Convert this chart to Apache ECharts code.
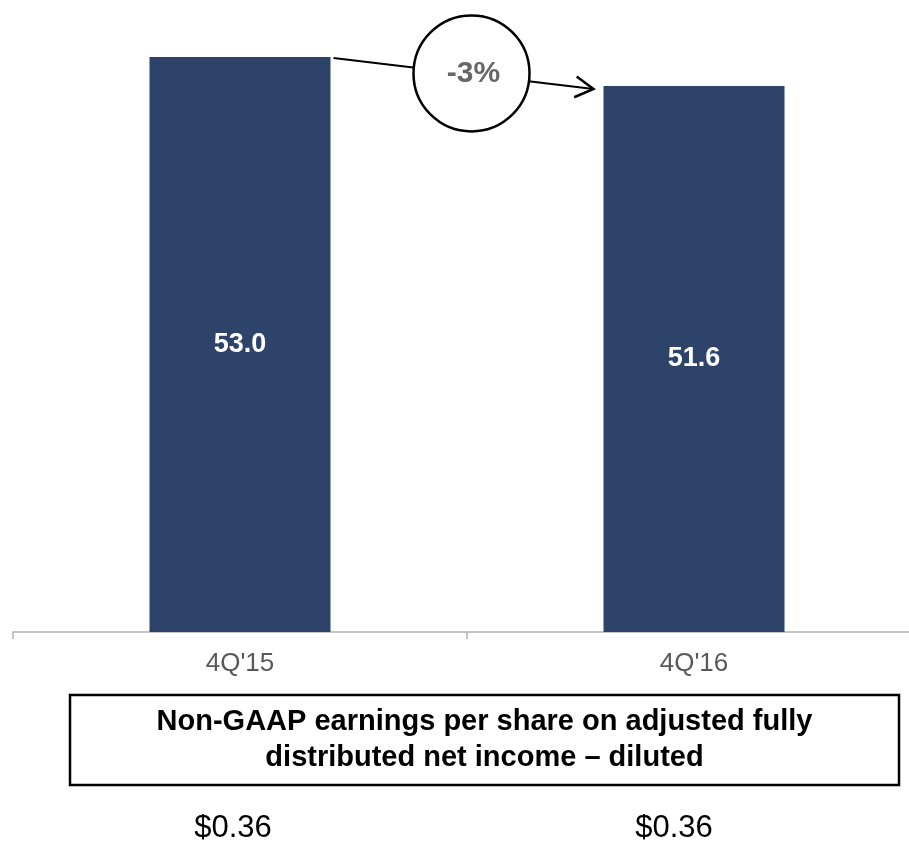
<!DOCTYPE html>
<html>
<head>
<meta charset="utf-8">
<script src="https://cdn.jsdelivr.net/npm/echarts@6/dist/echarts.min.js"></script>
<style>
html,body{margin:0;padding:0;background:#fff;overflow:hidden;width:909px;height:842px;}
#chart{width:921px;height:842px;}
</style>
</head>
<body>
<div id="chart"></div>
<script>
// ---- data ----
var categories = ["4Q'15", "4Q'16"];
var values = [53.0, 51.6];
var changeLabel = '-3%';
var boxTitle = ['Non-GAAP earnings per share on adjusted fully', 'distributed net income \u2013 diluted'];
var epsLabels = ['$0.36', '$0.36'];

var FONT = '"Liberation Sans", Arial, sans-serif';
var BAR_W = 181;

var chart = echarts.init(document.getElementById('chart'), null, {renderer: 'canvas'});

var option = {
  animation: false,
  backgroundColor: '#ffffff',
  grid: {left: 13, top: 57, right: 0, bottom: 210, containLabel: false},
  xAxis: {
    type: 'category',
    data: categories,
    axisLine: {show: true, lineStyle: {color: '#b3b3b3', width: 1.5}},
    axisTick: {show: true, length: 7, lineStyle: {color: '#b3b3b3', width: 1.5}},
    axisLabel: {color: '#595959', fontSize: 26, fontFamily: FONT, margin: 19}
  },
  yAxis: {
    type: 'value',
    min: 25.2,
    max: 53,
    show: false,
    splitLine: {show: false}
  },
  series: [{
    type: 'bar',
    data: values,
    barWidth: BAR_W,
    itemStyle: {color: '#2d4369'},
    label: {
      show: true,
      position: 'inside',
      color: '#ffffff',
      fontWeight: 'bold',
      fontSize: 27,
      fontFamily: FONT,
      formatter: function (p) { return p.value.toFixed(1); }
    }
  }]
};
chart.setOption(option);

// ---- annotations derived from the chart's own scales ----
var p1 = chart.convertToPixel({seriesIndex: 0}, [0, values[0]]);
var p2 = chart.convertToPixel({seriesIndex: 0}, [1, values[1]]);
var start = [p1[0] + BAR_W / 2 + 3, p1[1] + 1];
var tip = [p2[0] - BAR_W / 2 - 10, p2[1] + 3];
var ang = Math.atan2(tip[1] - start[1], tip[0] - start[0]);
var armLen = 21, half = 30 * Math.PI / 180;
var arm1 = [tip[0] - armLen * Math.cos(ang - half), tip[1] - armLen * Math.sin(ang - half)];
var arm2 = [tip[0] - armLen * Math.cos(ang + half), tip[1] - armLen * Math.sin(ang + half)];
var cx = (start[0] + tip[0]) / 2 + 8;
var cy = start[1] + (tip[1] - start[1]) * ((cx - start[0]) / (tip[0] - start[0])) - 1;

var c0 = chart.convertToPixel({xAxisIndex: 0}, 0);
var c1 = chart.convertToPixel({xAxisIndex: 0}, 1);

var graphics = [
  {type: 'polyline', z: 10, shape: {points: [start, tip]}, style: {stroke: '#000', lineWidth: 2, fill: null}},
  {type: 'polyline', z: 10, shape: {points: [arm1, tip, arm2]}, style: {stroke: '#000', lineWidth: 2.5, fill: null}},
  {type: 'circle', z: 11, shape: {cx: cx, cy: cy, r: 58}, style: {fill: '#fff', stroke: '#000', lineWidth: 2.5}},
  {type: 'text', z: 12, x: cx + 2, y: cy, style: {text: changeLabel, font: 'bold 30px ' + FONT, fill: '#666666', textAlign: 'center', textVerticalAlign: 'middle'}},
  {type: 'rect', z: 10, shape: {x: 70, y: 695, width: 829, height: 90}, style: {fill: '#fff', stroke: '#000', lineWidth: 2.5}},
  {type: 'text', z: 11, x: 484.5, y: 722, style: {text: boxTitle[0], font: 'bold 29px ' + FONT, fill: '#000', textAlign: 'center', textVerticalAlign: 'middle'}},
  {type: 'text', z: 11, x: 484.5, y: 758, style: {text: boxTitle[1], font: 'bold 29px ' + FONT, fill: '#000', textAlign: 'center', textVerticalAlign: 'middle'}},
  {type: 'text', z: 11, x: c0 - 7, y: 828, style: {text: epsLabels[0], font: '31px ' + FONT, fill: '#000', textAlign: 'center', textVerticalAlign: 'middle'}},
  {type: 'text', z: 11, x: c1 - 20, y: 828, style: {text: epsLabels[1], font: '31px ' + FONT, fill: '#000', textAlign: 'center', textVerticalAlign: 'middle'}}
];
chart.setOption({graphic: graphics});
</script>
</body>
</html>
